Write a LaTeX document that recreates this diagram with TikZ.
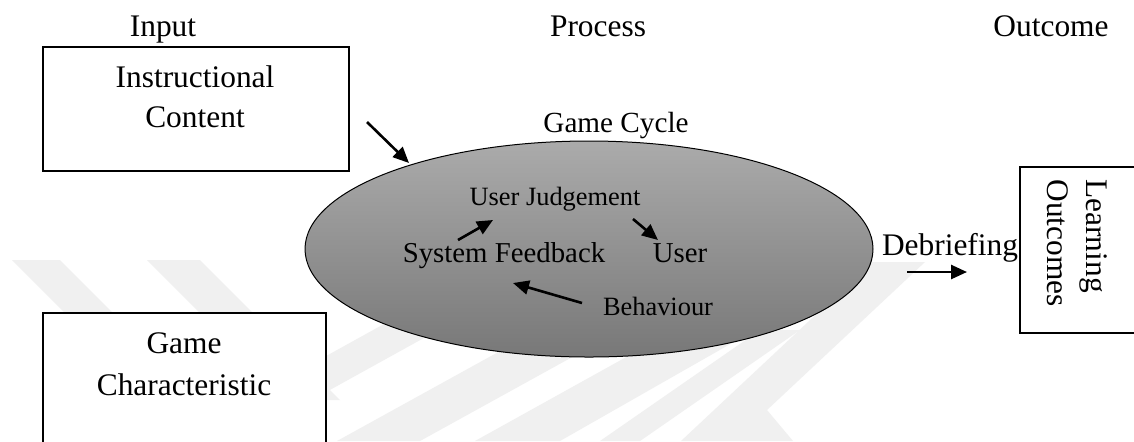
\documentclass[tikz,border=0pt]{standalone}
\usepackage{fontspec}
\setmainfont{Liberation Serif}
\usetikzlibrary{shapes.geometric,arrows.meta}
\begin{document}
\begin{tikzpicture}[x=0.5pt,y=-0.5pt,
  lblb/.style={font=\fontsize{15.7}{19.5}\selectfont, inner sep=0pt, anchor=base},
  lblm/.style={font=\fontsize{14.4}{17}\selectfont, inner sep=0pt, anchor=base},
  lbls/.style={font=\fontsize{13.2}{16}\selectfont, inner sep=0pt, anchor=base},
  boxst/.style={draw, line width=1pt, fill=white, rectangle, inner sep=0pt},
  arr/.style={line width=1.3pt, -{Triangle[length=8pt,width=7pt]}},
  wm/.style={fill=black!6, draw=none}]
\clip (0,0) rectangle (1134,441);
\useasboundingbox (0,0) rectangle (1134,441);
\fill[white] (0,0) rectangle (1134,441);

% watermark
\fill[wm] (12,260) -- (60,260) -- (220,420) -- (172,420) -- cycle;
\fill[wm] (147,260) -- (200,260) -- (340,400) -- (287,400) -- cycle;
\fill[wm] (290,376) -- (290,412) -- (460,318) -- (460,282) -- cycle;
\fill[wm] (337,441) -- (420,441) -- (594,345) -- (511,345) -- cycle;
\fill[wm] (475,441) -- (560,441) -- (746,335) -- (666,335) -- cycle;
\fill[wm] (600,441) -- (640,441) -- (800,330) -- (760,330) -- cycle;
\fill[wm] (681,441) -- (793,441) -- (767,410) -- (925,262) -- (872,262) -- cycle;

% headings
\node[lblb] (hin) at (163,36) {Input};
\node[lblb] (hpr) at (598,36) {Process};
\node[lblb] (hout) at (1051,36) {Outcome};

% input boxes
\node[boxst, minimum width=153pt, minimum height=62pt] (ic) at (196,109) {};
\node[lblb] (ic1) at (195,87) {Instructional};
\node[lblb] (ic2) at (195,127) {Content};

\node[boxst, minimum width=141.5pt, minimum height=100pt] (gc) at (184.5,413) {};
\node[lblb] (gc1) at (184,353) {Game};
\node[lblb] (gc2) at (184,395) {Characteristic};

% game cycle
\node[ellipse, draw, line width=0.5pt, top color=black!33, bottom color=black!53,
      minimum width=284pt, minimum height=108pt, inner sep=0pt] (cyc) at (589,249) {};
\node[font=\fontsize{14.6}{17}\selectfont, inner sep=0pt, anchor=base] (gcy) at (616,132) {Game Cycle};
\node[lbls] (uj) at (555,205) {User Judgement};
\node[lblm] (sf) at (504,262) {System Feedback};
\node[lblm] (us) at (680,262) {User};
\node[lbls] (bh) at (658,315) {Behaviour};

% outcome
\node[boxst, minimum width=65pt, minimum height=83pt] (lo) at (1085,250) {};
\node[font=\fontsize{15.7}{19.5}\selectfont, inner sep=0pt, rotate=-90, align=left] (lot) at (1077,243) {Learning\\Outcomes};
\node[lblb] (db) at (950,255) {Debriefing};

% arrows
\coordinate (a1s) at (367,122); \coordinate (a1e) at (409,163);
\coordinate (a2s) at (458,240); \coordinate (a2e) at (493,220);
\coordinate (a3s) at (633,219); \coordinate (a3e) at (658,240);
\coordinate (a4s) at (582,303); \coordinate (a4e) at (513,283);
\coordinate (a5s) at (907,272); \coordinate (a5e) at (967,272);
\draw[arr] (a1s) -- (a1e);
\draw[arr] (a2s) -- (a2e);
\draw[arr] (a3s) -- (a3e);
\draw[arr] (a4s) -- (a4e);
\draw[arr] (a5s) -- (a5e);
\end{tikzpicture}
\end{document}
